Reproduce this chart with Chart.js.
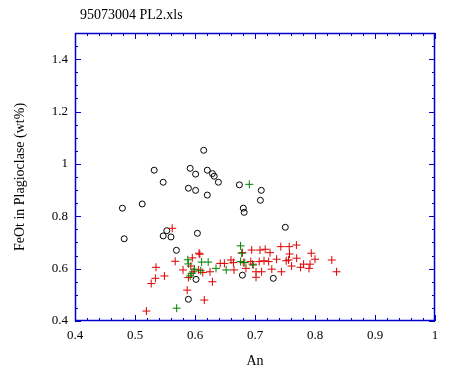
<!DOCTYPE html>
<html>
<head>
<meta charset="utf-8">
<script src="https://cdn.jsdelivr.net/npm/chart.js@4/dist/chart.umd.min.js"></script>
<style>
  html, body { margin: 0; padding: 0; background: #fff; }
  #wrap { width: 450px; height: 375px; }
</style>
</head>
<body>
<div id="wrap"><canvas id="myChart" width="450" height="375"></canvas></div>
<script>
const chartTitle = '95073004 PL2.xls';
const xTitle = 'An';
const yTitle = 'FeOt in Plagioclase (wt%)';

const xTicks = [0.4, 0.5, 0.6, 0.7, 0.8, 0.9, 1];
const yTicks = [0.4, 0.6, 0.8, 1, 1.2, 1.4];

// open circles
const circleAn = [0.6145, 0.532, 0.592, 0.601, 0.6205, 0.629, 0.632, 0.639, 0.547, 0.589,
    0.601, 0.6205, 0.512, 0.479, 0.482, 0.553, 0.547, 0.560, 0.604, 0.674,
    0.7105, 0.709, 0.6805, 0.682, 0.7505, 0.569, 0.6017, 0.589, 0.679, 0.7305];
const circleFeO = [1.052, 0.976, 0.983, 0.961, 0.976, 0.963, 0.953, 0.930, 0.930, 0.907,
    0.899, 0.881, 0.847, 0.831, 0.714, 0.745, 0.725, 0.721, 0.735, 0.920,
    0.899, 0.861, 0.831, 0.815, 0.758, 0.670, 0.559, 0.483, 0.575, 0.563];

// red crosses
const redAn = [0.535, 0.534, 0.549, 0.527, 0.567, 0.5955, 0.6067, 0.608, 0.580, 0.593,
    0.597, 0.589, 0.587, 0.6155, 0.519, 0.606, 0.613, 0.625, 0.629, 0.642,
    0.649, 0.660, 0.664, 0.665, 0.679, 0.6945, 0.7083, 0.717, 0.725, 0.743,
    0.757, 0.769, 0.7575, 0.7938, 0.6805, 0.693, 0.696, 0.707, 0.715, 0.7228,
    0.736, 0.752, 0.756, 0.7695, 0.761, 0.781, 0.7917, 0.8, 0.79, 0.776,
    0.828, 0.836, 0.7017, 0.711, 0.7017, 0.728, 0.744, 0.685, 0.562];
const redFeO = [0.605, 0.563, 0.572, 0.543, 0.628, 0.641, 0.659, 0.655, 0.595, 0.610,
    0.588, 0.566, 0.518, 0.480, 0.438, 0.595, 0.585, 0.588, 0.550, 0.620,
    0.620, 0.633, 0.623, 0.595, 0.661, 0.671, 0.671, 0.674, 0.661, 0.684,
    0.684, 0.690, 0.656, 0.659, 0.623, 0.627, 0.617, 0.627, 0.630, 0.627,
    0.636, 0.630, 0.633, 0.640, 0.610, 0.617, 0.617, 0.636, 0.601, 0.605,
    0.633, 0.588, 0.588, 0.588, 0.567, 0.598, 0.588, 0.601, 0.754];

// green crosses
const greenAn = [0.6905, 0.588, 0.589, 0.611, 0.622, 0.599, 0.6095, 0.5945, 0.592, 0.635,
    0.652, 0.5695, 0.676, 0.6778, 0.676, 0.683, 0.697];
const greenFeO = [0.922, 0.634, 0.618, 0.625, 0.625, 0.598, 0.592, 0.582, 0.572, 0.601,
    0.595, 0.449, 0.687, 0.659, 0.627, 0.623, 0.614];

const toPoints = (xs, ys) => xs.map((x, i) => ({x: x, y: ys[i]}));

const axisBlue = '#0000cc';
const serif = "'Liberation Serif', 'DejaVu Serif', serif";

// frame + inward ticks on all four sides
const framePlugin = {
    id: 'frame',
    afterDraw(chart) {
        const {ctx, chartArea: a, scales: {x, y}} = chart;
        ctx.save();
        ctx.strokeStyle = axisBlue;
        ctx.lineWidth = 1.5;
        ctx.strokeRect(a.left + 0.5, a.top + 0.5, a.right - a.left - 1, a.bottom - a.top - 1);
        ctx.lineWidth = 1;
        ctx.beginPath();
        for (let i = 0; i <= 30; i++) {
            const v = 0.4 + i * 0.02;
            const px = Math.round(x.getPixelForValue(v)) + 0.5;
            const len = i % 5 === 0 ? 6 : 3;
            ctx.moveTo(px, a.bottom); ctx.lineTo(px, a.bottom - len);
            ctx.moveTo(px, a.top); ctx.lineTo(px, a.top + len);
        }
        for (let i = 0; i <= 22; i++) {
            const v = 0.4 + i * 0.05;
            const py = Math.round(y.getPixelForValue(v)) + 0.5;
            const len = i % 4 === 0 ? 6 : 3;
            ctx.moveTo(a.left, py); ctx.lineTo(a.left + len, py);
            ctx.moveTo(a.right, py); ctx.lineTo(a.right - len, py);
        }
        ctx.stroke();
        ctx.fillStyle = '#000';
        ctx.font = '14px ' + serif;
        ctx.textBaseline = 'alphabetic';
        ctx.fillText(chartTitle, 80, 19);
        ctx.restore();
    }
};

const ctx = document.getElementById('myChart').getContext('2d');
new Chart(ctx, {
    type: 'scatter',
    data: {
        datasets: [{
            label: 'green',
            data: toPoints(greenAn, greenFeO),
            pointStyle: 'cross',
            radius: 4,
            borderColor: '#008000',
            borderWidth: 1,
            order: 0
        }, {
            label: 'red',
            data: toPoints(redAn, redFeO),
            pointStyle: 'cross',
            radius: 4,
            borderColor: '#dd0000',
            borderWidth: 1,
            order: 1
        }, {
            label: 'circles',
            data: toPoints(circleAn, circleFeO),
            pointStyle: 'circle',
            radius: 3,
            backgroundColor: 'rgba(0,0,0,0)',
            borderColor: '#000',
            borderWidth: 1,
            order: 2
        }]
    },
    options: {
        responsive: false,
        animation: false,
        events: [],
        layout: {padding: {top: 33, right: 15, left: 0, bottom: 0}},
        plugins: {legend: {display: false}, tooltip: {enabled: false}},
        scales: {
            x: {
                type: 'linear',
                min: 0.4,
                max: 1,
                afterFit: s => { s.height = 54; },
                afterBuildTicks: s => { s.ticks = xTicks.map(v => ({value: v})); },
                grid: {display: false, drawTicks: false},
                border: {display: false},
                ticks: {
                    padding: 7,
                    color: '#000',
                    font: {family: serif, size: 13},
                    callback: v => String(v)
                },
                title: {display: true, text: xTitle, color: '#000',
                    font: {family: serif, size: 14}, padding: {top: 0, bottom: 5}}
            },
            y: {
                type: 'linear',
                min: 0.4,
                max: 1.5,
                afterFit: s => { s.width = 75; },
                afterBuildTicks: s => { s.ticks = yTicks.map(v => ({value: v})); },
                grid: {display: false, drawTicks: false},
                border: {display: false},
                ticks: {
                    padding: 7,
                    color: '#000',
                    font: {family: serif, size: 13},
                    callback: v => String(v)
                },
                title: {display: true, text: yTitle, color: '#000',
                    font: {family: serif, size: 14}, padding: {top: 12, bottom: 0}}
            }
        }
    },
    plugins: [framePlugin]
});
</script>
</body>
</html>
